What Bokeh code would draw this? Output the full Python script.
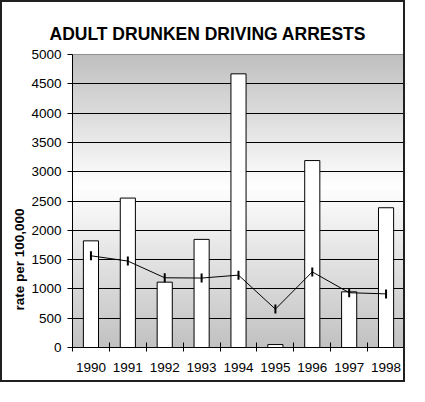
import numpy as np
from bokeh.plotting import figure
from bokeh.models import Range1d, FixedTicker, Title
from bokeh.embed import file_html
from bokeh.resources import INLINE

# ---- data ----
years = [1990, 1991, 1992, 1993, 1994, 1995, 1996, 1997, 1998]
arrests = [1820, 2550, 1115, 1845, 4670, 50, 3190, 950, 2385]
rate = [1565, 1475, 1190, 1185, 1235, 655, 1290, 935, 915]
y_ticks = [0, 500, 1000, 1500, 2000, 2500, 3000, 3500, 4000, 4500, 5000]
title_text = "ADULT DRUNKEN DRIVING ARRESTS"
y_label_text = "rate per 100,000"

FONT = "Liberation Sans"

p = figure(width=405, height=382, output_backend="svg", toolbar_location=None,
           title=None,
           x_range=Range1d(years[0] - 0.5, years[-1] + 0.5),
           y_range=Range1d(y_ticks[0], y_ticks[-1]),
           min_border_left=70, min_border_right=3,
           min_border_top=52, min_border_bottom=37)
p.background_fill_color = "white"
p.border_fill_color = "white"
p.outline_line_color = "#808080"
p.outline_line_width = 1
p.styles = {"border": "2px solid #202020"}

# ---- gradient background (style) ----
n = 300
lv = np.linspace(y_ticks[0], y_ticks[-1], n)
mid = 2750.0
g = np.where(lv <= mid, 194 + (255 - 194) * (lv / mid),
             192 + (255 - 192) * ((y_ticks[-1] - lv) / (y_ticks[-1] - mid)))
g = np.clip(g, 0, 255).astype(np.uint8)
img = np.empty((n, 1), dtype=np.uint32)
v = img.view(dtype=np.uint8).reshape((n, 1, 4))
v[:, 0, 0] = g
v[:, 0, 1] = g
v[:, 0, 2] = g
v[:, 0, 3] = 255
p.image_rgba(image=[img], x=years[0] - 0.5, y=y_ticks[0],
             dw=len(years), dh=y_ticks[-1] - y_ticks[0], level="image")

# ---- grid ----
p.xgrid.visible = False
p.ygrid.ticker = FixedTicker(ticks=y_ticks[1:-1])
p.ygrid.grid_line_color = "black"
p.ygrid.grid_line_width = 1

# ---- bars ----
p.vbar(x=years, top=arrests, width=0.41, bottom=0,
       fill_color="white", line_color="black", line_width=1)

# ---- line ----
p.line(years, rate, line_color="black", line_width=1)
p.scatter(years, rate, marker="dash", angle=np.pi / 2, size=9,
          line_color="black", line_width=2)

# ---- axes ----
xa = p.xaxis[0]
xa.ticker = FixedTicker(ticks=years,
                        minor_ticks=[y - 0.5 for y in years] + [years[-1] + 0.5])
xa.major_tick_line_color = None
xa.major_tick_in = 0
xa.major_tick_out = 4
xa.minor_tick_line_color = "black"
xa.minor_tick_in = 5
xa.minor_tick_out = 4
xa.axis_line_color = "black"
xa.major_label_text_font = FONT
xa.major_label_text_font_size = "13.5px"
xa.major_label_text_color = "black"
xa.major_label_standoff = 11

ya = p.yaxis[0]
ya.ticker = FixedTicker(ticks=y_ticks)
ya.minor_tick_line_color = None
ya.major_tick_in = 0
ya.major_tick_out = 5
ya.major_tick_line_color = "black"
ya.axis_line_color = "black"
ya.major_label_text_font = FONT
ya.major_label_text_font_size = "13.5px"
ya.major_label_text_color = "black"
ya.major_label_standoff = 6

# ---- texts ----
p.add_layout(Title(text=title_text, text_font=FONT, text_font_size="17.5px",
                   text_font_style="bold", text_color="black",
                   align="left", offset=-23, standoff=21), "above")
p.add_layout(Title(text=y_label_text, text_font=FONT, text_font_size="13.5px",
                   text_font_style="bold", text_color="black",
                   align="left", offset=37, standoff=4), "left")

open("out.html", "w").write(file_html(p, INLINE))
